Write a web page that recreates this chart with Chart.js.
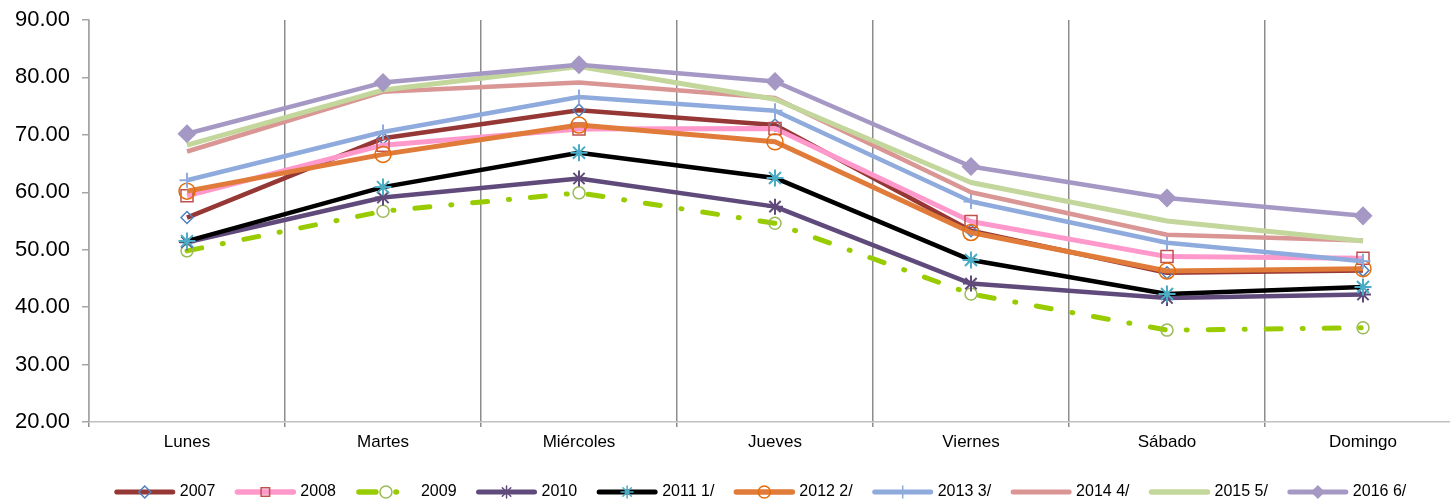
<!DOCTYPE html>
<html>
<head>
<meta charset="utf-8">
<script src="https://cdn.jsdelivr.net/npm/chart.js@4"></script>
<style>
  html, body { margin: 0; padding: 0; background: #fff; overflow: hidden; }
  #wrap { width: 1450px; height: 502px; overflow: hidden; }
</style>
</head>
<body>
<div id="wrap"><canvas id="grafico" width="1520" height="510"></canvas></div>
<script>
// categorías (días de la semana)
const dias = ['Lunes', 'Martes', 'Miércoles', 'Jueves', 'Viernes', 'Sábado', 'Domingo'];

// valores por año
const serie2007 = [55.6, 69.4, 74.3, 71.7, 53.3, 46.0, 46.4];
const serie2008 = [59.4, 68.2, 71.0, 71.1, 54.9, 48.8, 48.5];
const serie2009 = [49.8, 56.7, 59.9, 54.6, 42.3, 36.0, 36.4];
const serie2010 = [51.3, 59.1, 62.4, 57.5, 44.1, 41.6, 42.2];
const serie2011 = [51.5, 60.9, 66.9, 62.5, 48.2, 42.3, 43.5];
const serie2012 = [60.2, 66.6, 71.7, 68.8, 53.0, 46.3, 46.7];
const serie2013 = [62.1, 70.5, 76.6, 74.2, 58.4, 51.2, 48.0];
const serie2014 = [67.1, 77.5, 79.1, 76.4, 60.0, 52.6, 51.6];
const serie2015 = [68.2, 77.8, 81.9, 76.2, 61.7, 55.0, 51.5];
const serie2016 = [70.2, 79.1, 82.2, 79.3, 64.5, 59.0, 55.9];

const etiquetas = ['2007', '2008', '2009', '2010', '2011 1/', '2012 2/', '2013 3/', '2014 4/', '2015 5/', '2016 6/'];

// eje Y
const yMin = 20;
const yMax = 90;
const yPaso = 10;

const valores = [serie2007, serie2008, serie2009, serie2010, serie2011,
                 serie2012, serie2013, serie2014, serie2015, serie2016];

// estilo de cada serie
const estilos = [
  { color: '#953735', width: 4.5, punto: 'rectRot', r: 6, pColor: '#4f81bd', relleno: false },
  { color: '#ff99cc', width: 5, punto: 'rect', r: 8.5, pColor: '#c0504d', relleno: false },
  { color: '#99cc00', width: 5, punto: 'circle', r: 6, pColor: '#9bbb59', relleno: false, dash: [15, 21, 1, 21] },
  { color: '#604a7b', width: 4.5, punto: 'star', r: 8, pColor: '#604a7b', relleno: false },
  { color: '#000000', width: 4.5, punto: 'star', r: 8.5, pColor: '#4bacc6', relleno: false },
  { color: '#e07b39', width: 5, punto: 'circle', r: 8, pColor: '#e46c0a', relleno: false },
  { color: '#8faadc', width: 4.5, punto: 'cross', r: 7.5, pColor: '#8faadc', relleno: false },
  { color: '#d99694', width: 4.5, punto: false, r: 0 },
  { color: '#c3d69b', width: 5, punto: false, r: 0 },
  { color: '#a598c4', width: 4.5, punto: 'rectRot', r: 8.5, pColor: '#a598c4', relleno: true }
];

const datasets = valores.map((data, i) => {
  const e = estilos[i];
  return {
    label: etiquetas[i],
    data: data,
    borderColor: e.color,
    borderWidth: e.width,
    borderDash: e.dash || [],
    borderCapStyle: e.dash ? 'round' : 'butt',
    borderJoinStyle: 'round',
    tension: 0,
    fill: false,
    pointStyle: e.punto,
    pointRadius: e.r,
    pointHoverRadius: e.r,
    pointBorderColor: e.pColor || e.color,
    pointBackgroundColor: e.relleno ? e.pColor : 'rgba(0,0,0,0)',
    pointBorderWidth: e.punto === 'star' || e.punto === 'cross' ? 2 : 1.5,
    order: valores.length - i  // los años recientes se dibujan encima
  };
});

// dibuja la línea y el marcador de cada entrada de la leyenda
const leyendaLineas = {
  id: 'leyendaLineas',
  afterLayout(chart) {
    // centrar la leyenda como en el original
    chart.legend.left += 30;
    chart.legend.right += 30;
  },
  afterDraw(chart) {
    const ctx = chart.ctx;
    const legend = chart.legend;
    const bw = legend.options.labels.boxWidth + 3;
    legend.legendHitBoxes.forEach((hb, i) => {
      const e = estilos[i];
      const y = hb.top + hb.height / 2;
      ctx.save();
      ctx.strokeStyle = e.color;
      ctx.lineWidth = e.width + 0.5;
      ctx.lineCap = 'round';
      if (e.dash) {
        ctx.beginPath();
        ctx.moveTo(hb.left + 3, y);
        ctx.lineTo(hb.left + 20, y);
        ctx.stroke();
        ctx.beginPath();
        ctx.moveTo(hb.left + 40, y);
        ctx.lineTo(hb.left + 40.5, y);
        ctx.stroke();
      } else {
        ctx.beginPath();
        ctx.moveTo(hb.left + 2, y);
        ctx.lineTo(hb.left + bw - 2, y);
        ctx.stroke();
      }
      if (e.punto) {
        const cx = e.dash ? hb.left + 30 : hb.left + bw / 2;
        ctx.strokeStyle = e.pColor;
        ctx.fillStyle = e.relleno ? e.pColor : 'rgba(0,0,0,0)';
        ctx.lineWidth = 1.5;
        Chart.helpers.drawPoint(ctx, {
          pointStyle: e.punto,
          radius: Math.min(e.r, 6),
          borderWidth: 1.5,
          rotation: 0
        }, cx, y);
      }
      ctx.restore();
    });
  }
};

new Chart(document.getElementById('grafico'), {
  type: 'line',
  data: { labels: dias, datasets: datasets },
  plugins: [leyendaLineas],
  options: {
    responsive: false,
    animation: false,
    devicePixelRatio: 1,
    layout: { padding: { top: 20, right: 59, left: 0, bottom: 0 } },
    scales: {
      x: {
        offset: true,
        grid: {
          offset: true,
          display: true,
          drawOnChartArea: true,
          color: '#8c8c8c',
          lineWidth: 1.5,
          tickLength: 5
        },
        border: { display: true, color: '#c0c0c0', width: 1.5 },
        ticks: {
          color: '#000',
          padding: 5,
          font: { family: 'Liberation Sans, Arial, sans-serif', size: 17 },
          maxRotation: 0
        },
        afterFit(scale) { scale.height = 42; }
      },
      y: {
        min: yMin,
        max: yMax,
        ticks: {
          stepSize: yPaso,
          color: '#000',
          padding: 12,
          font: { family: 'Liberation Sans, Arial, sans-serif', size: 22 },
          callback: v => v.toFixed(2)
        },
        grid: {
          drawOnChartArea: false,
          color: '#a6a6a6',
          lineWidth: 1.5,
          tickLength: 7
        },
        border: { display: true, color: '#a6a6a6', width: 1.5 },
        afterFit(scale) {
          scale.width = 89;
          scale.paddingTop = 0;
          scale.paddingBottom = 0;
        }
      }
    },
    plugins: {
      legend: {
        display: true,
        position: 'bottom',
        labels: {
          boxWidth: 57,
          boxHeight: 10,
          padding: 20,
          color: '#000',
          font: { family: 'Liberation Sans, Arial, sans-serif', size: 16 },
          generateLabels(chart) {
            return chart.data.datasets.map((ds, i) => ({
              text: ds.label,
              fillStyle: 'rgba(0,0,0,0)',
              strokeStyle: 'rgba(0,0,0,0)',
              lineWidth: 0,
              hidden: false,
              datasetIndex: i,
              fontColor: '#000'
            }));
          }
        }
      },
      tooltip: { enabled: false }
    }
  }
});
</script>
</body>
</html>
